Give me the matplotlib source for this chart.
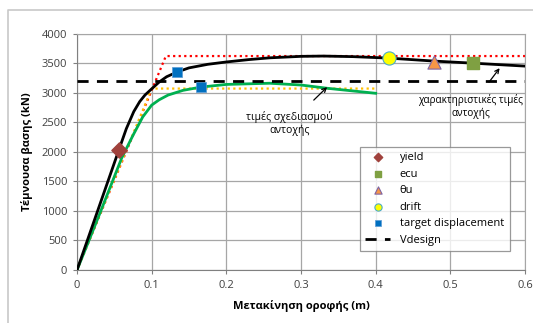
import numpy as np
import matplotlib.pyplot as plt
from matplotlib.lines import Line2D

plt.rcParams['font.family'] = ['Open Sans', 'DejaVu Sans']

# pushover curves (roof displacement m, base shear kN)
black_x = [0, 0.056, 0.066, 0.076, 0.084, 0.091, 0.097, 0.103, 0.11, 0.12, 0.134, 0.15, 0.175, 0.2, 0.23, 0.258, 0.3, 0.33, 0.37, 0.418, 0.478, 0.53, 0.6]
black_y = [0, 2030, 2390, 2680, 2850, 2960, 3030, 3100, 3180, 3270, 3350, 3420, 3480, 3520, 3560, 3590, 3615, 3620, 3610, 3585, 3535, 3500, 3450]
green_x = [0, 0.03, 0.06, 0.075, 0.088, 0.1, 0.11, 0.122, 0.142, 0.166, 0.2, 0.258, 0.3, 0.335, 0.4]
green_y = [0, 940, 1900, 2280, 2590, 2790, 2880, 2960, 3040, 3095, 3140, 3160, 3130, 3075, 2990]
red_x = [0, 0.119, 0.6]
red_y = [0, 3620, 3620]
yellow_x = [0, 0.1, 0.4]
yellow_y = [0, 3070, 3070]
vdesign = 3200

# characteristic points
yield_pt = (0.056, 2030)
ecu_pt = (0.531, 3500)
thu_pt = (0.478, 3525)
drift_pt = (0.418, 3585)
target_x = [0.134, 0.166]
target_y = [3350, 3095]

fig = plt.figure(figsize=(5.33, 3.23), dpi=100)
ax = fig.add_axes([0.1445, 0.164, 0.8405, 0.732])

# outer chart frame (only top and left edges visible)
fig.add_artist(Line2D([8/533, 8/533, 1], [0, 1 - 10/323, 1 - 10/323], transform=fig.transFigure,
                      color='#c8c8c8', linewidth=1.2))

ax.plot(red_x, red_y, color='#ff0000', linestyle=(0, (1, 1.5)), linewidth=1.6, zorder=2)
ax.plot(yellow_x, yellow_y, color='#ffc000', linestyle=(0, (1, 1.5)), linewidth=1.6, zorder=2)
ax.plot(green_x, green_y, color='#00b050', linewidth=2, zorder=3)
ax.plot(black_x, black_y, color='black', linewidth=2, zorder=4)
ax.axhline(vdesign, color='black', linestyle=(0, (4, 3)), linewidth=2, zorder=3)

ax.scatter(*yield_pt, marker='D', s=60, color='#a0413c', zorder=6, label='yield')
ax.scatter(*ecu_pt, marker='s', s=80, color='#7fa042', zorder=6, label='ecu')
ax.scatter(*thu_pt, marker='^', s=90, color='#f79646', edgecolor='#8064a2', linewidths=0.8, zorder=6, label='θu')
ax.scatter(*drift_pt, marker='o', s=90, color='#ffff00', edgecolor='#4bacc6', linewidths=0.8, zorder=6, label='drift')
ax.scatter(target_x, target_y, marker='s', s=50, color='#0070c0', edgecolor='#5b9bd5', linewidths=0.5, zorder=6, label='target displacement')
ax.plot([], [], color='black', linestyle=(0, (4, 3)), linewidth=2, label='Vdesign')

ax.annotate('τιμές σχεδιασμού\nαντοχής', xy=(0.335, 3095), xytext=(0.285, 2480),
            ha='center', va='center', fontsize=7.5, linespacing=1.3,
            arrowprops=dict(arrowstyle='->', color='black', lw=0.9, shrinkA=8, shrinkB=0))
ax.annotate('χαρακτηριστικές τιμές\nαντοχής', xy=(0.566, 3415), xytext=(0.527, 2765),
            ha='center', va='center', fontsize=7.2, linespacing=1.3,
            arrowprops=dict(arrowstyle='->', color='black', lw=0.9, shrinkA=8, shrinkB=0))

ax.set_xlim(0, 0.6)
ax.set_ylim(0, 4000)
ax.set_xticks(np.arange(0, 0.61, 0.1))
ax.set_xticklabels(['0', '0.1', '0.2', '0.3', '0.4', '0.5', '0.6'])
ax.set_yticks(np.arange(0, 4001, 500))
ax.tick_params(labelsize=8, length=3, width=0.8, color='#808080', pad=4, labelcolor='#404040')
ax.grid(True, color='#a6a6a6', linewidth=0.9)
ax.set_axisbelow(True)
for s in ax.spines.values():
    s.set_color('#a6a6a6')
ax.spines['left'].set_color('#808080')
ax.spines['bottom'].set_color('#808080')

ax.set_xlabel('Μετακίνηση οροφής (m)', fontsize=8, fontweight='bold', labelpad=7)
ax.set_ylabel('Τέμνουσα βασης (kN)', fontsize=8, fontweight='bold', labelpad=6)

leg = ax.legend(loc='lower right', bbox_to_anchor=(0.978, 0.055), fontsize=8, frameon=True,
                fancybox=False, edgecolor='#808080', handlelength=2.2, borderpad=0.5,
                labelspacing=0.5, handletextpad=0.9, markerscale=0.55)
leg.get_frame().set_linewidth(0.9)

fig.savefig('out.png', dpi=100)
